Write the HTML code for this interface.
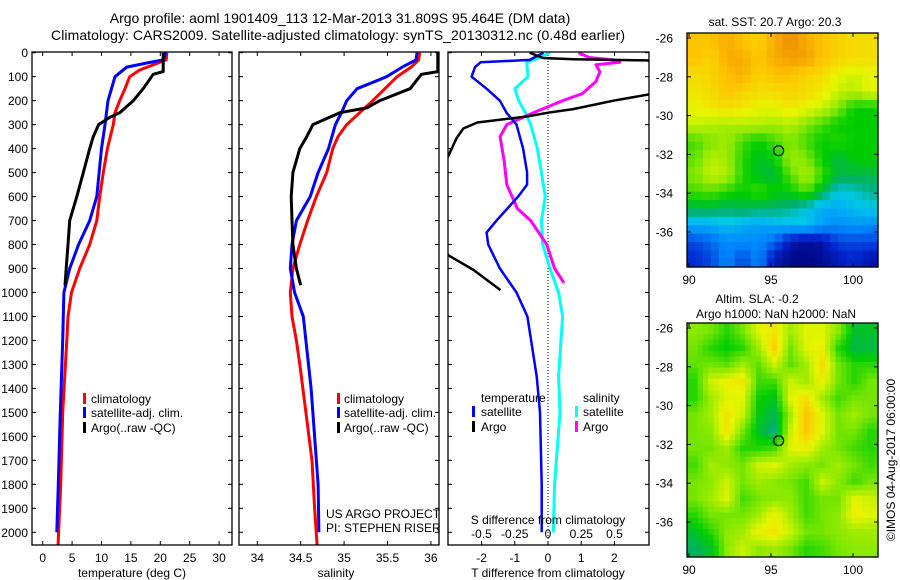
<!DOCTYPE html>
<html><head><meta charset="utf-8"><style>
body{margin:0;background:#fff}
svg{display:block;font-family:"Liberation Sans",sans-serif}
</style></head><body>
<svg id="fig" width="900" height="580" viewBox="0 0 900 580">
<rect width="900" height="580" fill="#fff"/>
<text x="340" y="23" font-size="14" text-anchor="middle">Argo profile: aoml 1901409_113 12-Mar-2013 31.809S 95.464E (DM data)</text>
<text x="338" y="40" font-size="14" text-anchor="middle" textLength="574">Climatology: CARS2009. Satellite-adjusted climatology: synTS_20130312.nc (0.48d earlier)</text>
<g id="g"></g>
</svg>
<script>
// ---- depth axis data ----
const depthTicks=[0,100,200,300,400,500,600,700,800,900,1000,1100,1200,1300,1400,1500,1600,1700,1800,1900,2000];
// temperature panel
const tempTicks=[0,5,10,15,20,25,30];
const climTDepth=[0,30,72,100,150,200,250,300,400,500,600,700,800,900,1000,1100,1200,1500,1800,2000,2060];
const climT=[21.1,21,16.5,14.8,14,13.1,12.3,12,11,10.3,9.7,9.2,8.0,6.3,4.9,4.3,4.1,3.4,3.06,2.7,2.6];
const satTDepth=[0,30,43,60,100,150,200,300,400,500,600,700,800,900,1000,1100,1200,1500,1800,2000];
const satT=[21,20.5,17.7,14.3,12.3,11.7,11.1,10.6,10,9.6,9.2,8.0,6.1,4.6,3.6,3.5,3.4,3.0,2.65,2.4];
const argoTDepth=[0,79,90,150,200,250,270,300,350,400,500,600,700,800,900,970];
const argoT=[20.5,20.5,18.8,17.1,15.4,13.1,11.4,9.5,8.6,8.0,6.9,5.8,4.6,4.3,4.0,3.8];
// salinity panel
const salTicks=[34,34.5,35,35.5,36];
const climSDepth=[0,30,58,100,150,200,250,300,350,400,500,600,700,800,900,1000,1100,1200,1300,1500,1700,1900,2060];
const climS=[35.87,35.86,35.78,35.61,35.47,35.33,35.18,35.03,34.93,34.87,34.8,34.68,34.58,34.49,34.41,34.38,34.40,34.45,34.49,34.56,34.63,34.66,34.69];
const satSDepth=[0,30,58,100,150,200,250,300,400,500,600,700,800,900,1000,1100,1200,1400,1600,1800,2000];
const satS=[35.84,35.83,35.68,35.49,35.15,35.03,34.97,34.9,34.82,34.7,34.61,34.45,34.40,34.38,34.43,34.53,34.56,34.62,34.66,34.70,34.71];
const argoSDepth=[0,79,90,150,200,230,250,300,350,400,500,600,700,800,900,970];
const argoS=[36.08,36.08,35.89,35.76,35.41,35.26,34.95,34.64,34.57,34.49,34.41,34.39,34.40,34.41,34.45,34.5];
// difference panel
const tDiffTicks=[-2,-1,0,1,2];
const sDiffTicks=[-0.5,-0.25,0,0.25,0.5];
const sDiffTickLabels=["-0.5","-0.25","0","0.25","0.5"];
const satTdDepth=[0,30,40,60,100,150,200,250,300,400,500,550,600,700,750,800,900,1000,1100,1350,1500,1800,2000];
const satTd=[-0.14,-0.55,-2.03,-2.2,-2.3,-1.85,-1.45,-1.25,-0.95,-0.75,-0.63,-0.63,-0.9,-1.55,-1.85,-1.8,-1.45,-0.95,-0.62,-0.34,-0.24,-0.19,-0.19];
const argoTdDepth=[0,22,27,32,80,150,200,235,250,266,291,316,358,430,600,845,906,990];
const argoTd=[-0.55,-0.15,0.76,3.0,3.6,4,1.97,0.76,0.0,-0.64,-2.13,-2.55,-2.76,-3.0,-4,-3.0,-2.24,-1.43];
const satSdDepth=[0,20,40,100,150,200,250,300,400,500,600,700,800,900,1000,1100,1350,1500,1800,2000];
const satSd=[0.015,-0.06,-0.16,-0.15,-0.25,-0.22,-0.17,-0.13,-0.08,-0.05,-0.02,-0.05,-0.04,0.015,0.08,0.11,0.08,0.09,0.05,0.04];
const argoSdDepth=[0,20,30,40,50,80,120,170,200,250,300,350,450,550,650,700,800,900,960];
const argoSd=[0.23,0.31,0.49,0.54,0.36,0.39,0.36,0.26,0.11,-0.11,-0.31,-0.36,-0.33,-0.31,-0.23,-0.13,-0.01,0.05,0.12];
// maps
const lonTicks=[90,95,100];
const latTicks=[-26,-28,-30,-32,-34,-36];
const sstGrid=[
[.85,.85,.88,.85,.82,.88,.92,.88,.85,.82,.8,.8],
[.85,.82,.88,.88,.85,.88,.9,.9,.85,.82,.8,.8],
[.8,.82,.85,.88,.82,.85,.85,.82,.8,.75,.72,.75],
[.78,.8,.85,.82,.8,.8,.82,.8,.78,.72,.7,.75],
[.75,.78,.8,.78,.75,.75,.78,.75,.72,.65,.55,.55],
[.72,.7,.68,.7,.7,.68,.7,.65,.6,.55,.55,.55],
[.6,.65,.68,.6,.55,.6,.65,.6,.55,.58,.55,.55],
[.62,.7,.68,.58,.52,.55,.68,.65,.55,.5,.55,.55],
[.65,.72,.7,.58,.52,.5,.62,.7,.6,.5,.5,.5],
[.6,.62,.58,.55,.6,.55,.55,.62,.5,.4,.42,.45],
[.5,.5,.48,.5,.48,.48,.45,.4,.35,.35,.38,.4],
[.35,.35,.38,.35,.33,.35,.38,.4,.33,.3,.32,.3],
[.2,.25,.3,.3,.3,.25,.1,.05,.08,.2,.2,.2],
[.15,.2,.3,.2,.3,.1,.03,.03,.05,.1,.15,.08]];
const slaGrid=[
[.66,.64,.58,.64,.74,.78,.68,.74,.74,.66,.52,.52],
[.64,.58,.55,.58,.68,.82,.64,.74,.76,.58,.5,.5],
[.62,.64,.62,.68,.62,.72,.62,.68,.8,.64,.58,.58],
[.58,.72,.76,.78,.6,.6,.72,.68,.76,.64,.58,.64],
[.58,.68,.74,.74,.56,.53,.74,.79,.68,.6,.64,.64],
[.64,.68,.78,.72,.54,.49,.68,.85,.74,.64,.68,.64],
[.64,.66,.78,.64,.52,.46,.72,.84,.74,.64,.64,.58],
[.64,.64,.68,.58,.58,.6,.74,.76,.68,.64,.6,.58],
[.6,.68,.66,.64,.72,.74,.68,.66,.64,.68,.64,.6],
[.64,.66,.72,.64,.68,.66,.64,.6,.72,.66,.6,.64],
[.64,.68,.74,.6,.64,.66,.66,.6,.64,.64,.74,.72],
[.58,.64,.64,.64,.68,.76,.68,.6,.64,.66,.76,.74],
[.52,.58,.66,.68,.76,.78,.72,.64,.64,.66,.68,.68],
[.48,.52,.66,.72,.66,.68,.64,.58,.6,.64,.66,.66]];
const argoLon=95.464, argoLat=-31.809;

const NS="http://www.w3.org/2000/svg";
const G=document.getElementById('g');
function el(tag,attrs,parent,text){const e=document.createElementNS(NS,tag);for(const k in attrs)e.setAttribute(k,attrs[k]);if(text!==undefined)e.textContent=text;(parent||G).appendChild(e);return e;}
const yD=d=>52.7+d*0.2398;
const BOT=545, TOP=52;
function box(x0,x1,y0,y1,name){const r=el('rect',{x:x0,y:y0,width:x1-x0,height:y1-y0,fill:'none',stroke:'#000','stroke-width':1.3});}
function line(xs,ds,fx,fy,color,w,name,clip){
  const pts=xs.map((v,i)=>fx(v).toFixed(1)+','+fy(ds[i]).toFixed(1)).join(' ');
  const p=el('polyline',{points:pts,fill:'none',stroke:color,'stroke-width':w,'stroke-linejoin':'round'});
  if(clip)p.setAttribute('clip-path','url(#'+clip+')');
  
}
function txt(x,y,s,opts,name){const t=el('text',Object.assign({x:x,y:y,'font-size':12},opts||{}),G,s);return t;}
function legend(mx,tx,y,color,label,name){const r=el('rect',{x:mx,y:y-10,width:3,height:11,fill:color});txt(tx,y,label,{},name);}
function depthTicksOn(x0,x1,labels){depthTicks.forEach(d=>{const y=yD(d);el('line',{x1:x0,x2:x0+4,y1:y,y2:y,stroke:'#000'});el('line',{x1:x1,x2:x1-4,y1:y,y2:y,stroke:'#000'});if(labels)txt(28,y+4.5,String(d),{'text-anchor':'end'},'depth-tick-label');});}
const defs=el('defs',{});
function clip(id,x0,x1,y0,y1){const c=el('clipPath',{id:id},defs);el('rect',{x:x0,y:y0,width:x1-x0,height:y1-y0},c);}

// Panel 1: temperature
const xT=v=>42.7+v*5.88;
clip('c1',32,232,TOP,BOT);
depthTicksOn(32,232,true);
tempTicks.forEach(v=>{const x=xT(v);el('line',{x1:x,x2:x,y1:BOT,y2:BOT-4,stroke:'#000'});el('line',{x1:x,x2:x,y1:TOP,y2:TOP+4,stroke:'#000'});txt(x,562,String(v),{'text-anchor':'middle'},'temperature-tick-label');});
line(climT,climTDepth,xT,yD,'#f00',3,'climatology-temperature-line','c1');
line(satT,satTDepth,xT,yD,'#00f',3,'satellite-temperature-line','c1');
line(argoT,argoTDepth,xT,yD,'#000',3,'argo-temperature-line','c1');
box(32,232,TOP,BOT,'temperature-panel');
txt(132,577,'temperature (deg C)',{'text-anchor':'middle'},'temperature-axis-title');
legend(83,91,403,'#f00','climatology','legend-climatology');
legend(83,91,417,'#00f','satellite-adj. clim.','legend-satellite-adj');
legend(83,91,432,'#000','Argo(..raw -QC)','legend-argo');

// Panel 2: salinity
const xS=v=>257.3+(v-34)*86.8;
clip('c2',239,439,TOP,BOT);
depthTicksOn(239,439,false);
salTicks.forEach(v=>{const x=xS(v);el('line',{x1:x,x2:x,y1:BOT,y2:BOT-4,stroke:'#000'});el('line',{x1:x,x2:x,y1:TOP,y2:TOP+4,stroke:'#000'});txt(x,562,String(v),{'text-anchor':'middle'},'salinity-tick-label');});
line(climS,climSDepth,xS,yD,'#f00',3,'climatology-salinity-line','c2');
line(satS,satSDepth,xS,yD,'#00f',3,'satellite-salinity-line','c2');
line(argoS,argoSDepth,xS,yD,'#000',3,'argo-salinity-line','c2');
box(239,439,TOP,BOT,'salinity-panel');
txt(336,577,'salinity',{'text-anchor':'middle'},'salinity-axis-title');
legend(337,344,403,'#f00','climatology','legend-climatology-2');
legend(337,344,417,'#00f','satellite-adj. clim.','legend-satellite-adj-2');
legend(337,344,432,'#000','Argo(..raw -QC)','legend-argo-2');
txt(326,518,'US ARGO PROJECT',{},'project-label');
txt(326,532,'PI: STEPHEN RISER',{},'pi-label');

// Panel 3: differences
const xTd=v=>548+v*33.2;
const xSd=v=>548+v*133;
clip('c3',448,649,TOP,BOT);
depthTicksOn(448,649,false);
tDiffTicks.forEach(v=>{const x=xTd(v);el('line',{x1:x,x2:x,y1:BOT,y2:BOT-4,stroke:'#000'});txt(x,562,String(v),{'text-anchor':'middle'},'t-diff-tick-label');});
sDiffTicks.forEach((v,i)=>{const x=xSd(v);el('line',{x1:x,x2:x,y1:TOP,y2:TOP+4,stroke:'#000'});txt(x,538,sDiffTickLabels[i],{'text-anchor':'middle'},'s-diff-tick-label');});
el('line',{x1:xTd(0),x2:xTd(0),y1:TOP,y2:BOT,stroke:'#000','stroke-dasharray':'1,2'});
line(satSd,satSdDepth,xSd,yD,'#0ff',3,'satellite-salinity-diff-line','c3');
line(argoSd,argoSdDepth,xSd,yD,'#f0f',3,'argo-salinity-diff-line','c3');
line(satTd,satTdDepth,xTd,yD,'#00f',2.5,'satellite-temperature-diff-line','c3');
line(argoTd,argoTdDepth,xTd,yD,'#000',2.5,'argo-temperature-diff-line','c3');
box(448,649,TOP,BOT,'difference-panel');
txt(548,524,'S difference from climatology',{'text-anchor':'middle'},'s-diff-axis-title');
txt(548,577,'T difference from climatology',{'text-anchor':'middle'},'t-diff-axis-title');
txt(481,402,'temperature',{},'legend-temperature-heading');
txt(583,402,'salinity',{},'legend-salinity-heading');
legend(472,481,416,'#00f','satellite','legend-t-satellite');
legend(472,481,431,'#000','Argo','legend-t-argo');
legend(575,583,416,'#0ff','satellite','legend-s-satellite');
legend(575,583,431,'#f0f','Argo','legend-s-argo');

// Maps
const stops=[[0,[0,0,120]],[.15,[0,40,210]],[.3,[0,140,255]],[.4,[0,200,230]],[.47,[0,175,110]],[.55,[0,205,0]],[.65,[130,232,0]],[.75,[232,245,0]],[.85,[255,195,0]],[.95,[230,120,0]]];
function cmap(v){for(let i=1;i<stops.length;i++){if(v<=stops[i][0]){const a=stops[i-1],b=stops[i],t=(v-a[0])/(b[0]-a[0]);const c=a[1].map((x,k)=>Math.round(x+(b[1][k]-x)*t));return 'rgb('+c+')';}}return 'rgb('+stops[stops.length-1][1]+')';}
function sample(grid,fr,fc){const R=grid.length-1,C=grid[0].length-1;fr=Math.max(0,Math.min(R,fr));fc=Math.max(0,Math.min(C,fc));const r0=Math.floor(fr),c0=Math.floor(fc),r1=Math.min(R,r0+1),c1=Math.min(C,c0+1),tr=fr-r0,tc=fc-c0;
  return (grid[r0][c0]*(1-tc)+grid[r0][c1]*tc)*(1-tr)+(grid[r1][c0]*(1-tc)+grid[r1][c1]*tc)*tr;}
function map(grid,y0,name,up){
  const x0=687,x1=878,y1=y0+234;
  const lonX=v=>689+(v-90)*16.4;
  const latY=v=>y0+5+(-26-v)*19.4;
  const rows=grid.length*up,cols=grid[0].length*up,cw=(x1-x0)/cols,ch=(y1-y0)/rows;
  for(let r=0;r<rows;r++)for(let c=0;c<cols;c++){
    const v=sample(grid,(r+0.5)/up-0.5,(c+0.5)/up-0.5);
    const rc=el('rect',{x:(x0+c*cw).toFixed(2),y:(y0+r*ch).toFixed(2),width:(cw+0.6).toFixed(2),height:(ch+0.6).toFixed(2),fill:cmap(v)});
    
    
  }
  const b=el('rect',{x:x0,y:y0,width:x1-x0,height:y1-y0,fill:'none',stroke:'#000','stroke-width':1.3});
  lonTicks.forEach(v=>{const x=lonX(v);el('line',{x1:x,x2:x,y1:y1,y2:y1-4,stroke:'#000'});el('line',{x1:x,x2:x,y1:y0,y2:y0+4,stroke:'#000'});txt(x,y1+17,String(v),{'text-anchor':'middle'},name+'-lon-label');});
  latTicks.forEach(v=>{const y=latY(v);el('line',{x1:x0,x2:x0+4,y1:y,y2:y,stroke:'#000'});el('line',{x1:x1,x2:x1-4,y1:y,y2:y,stroke:'#000'});txt(673,y+4.5,String(v),{'text-anchor':'end'},name+'-lat-label');});
  const m=el('circle',{cx:lonX(argoLon),cy:latY(argoLat),r:5,fill:'none',stroke:'#000','stroke-width':1.2});
}
map(sstGrid,33,'sst-map',2);
txt(775,26,'sat. SST: 20.7 Argo: 20.3',{'text-anchor':'middle'},'sst-map-title');
map(slaGrid,323,'sla-map',3);
txt(757,303,'Altim. SLA: -0.2',{'text-anchor':'middle'},'sla-map-title');
txt(776,318,'Argo h1000: NaN h2000: NaN',{'text-anchor':'middle'},'sla-map-subtitle');
txt(895,460,'©IMOS 04-Aug-2017 06:00:00',{'text-anchor':'middle',transform:'rotate(-90 895 460)'},'imos-credit');
</script>
</body></html>
